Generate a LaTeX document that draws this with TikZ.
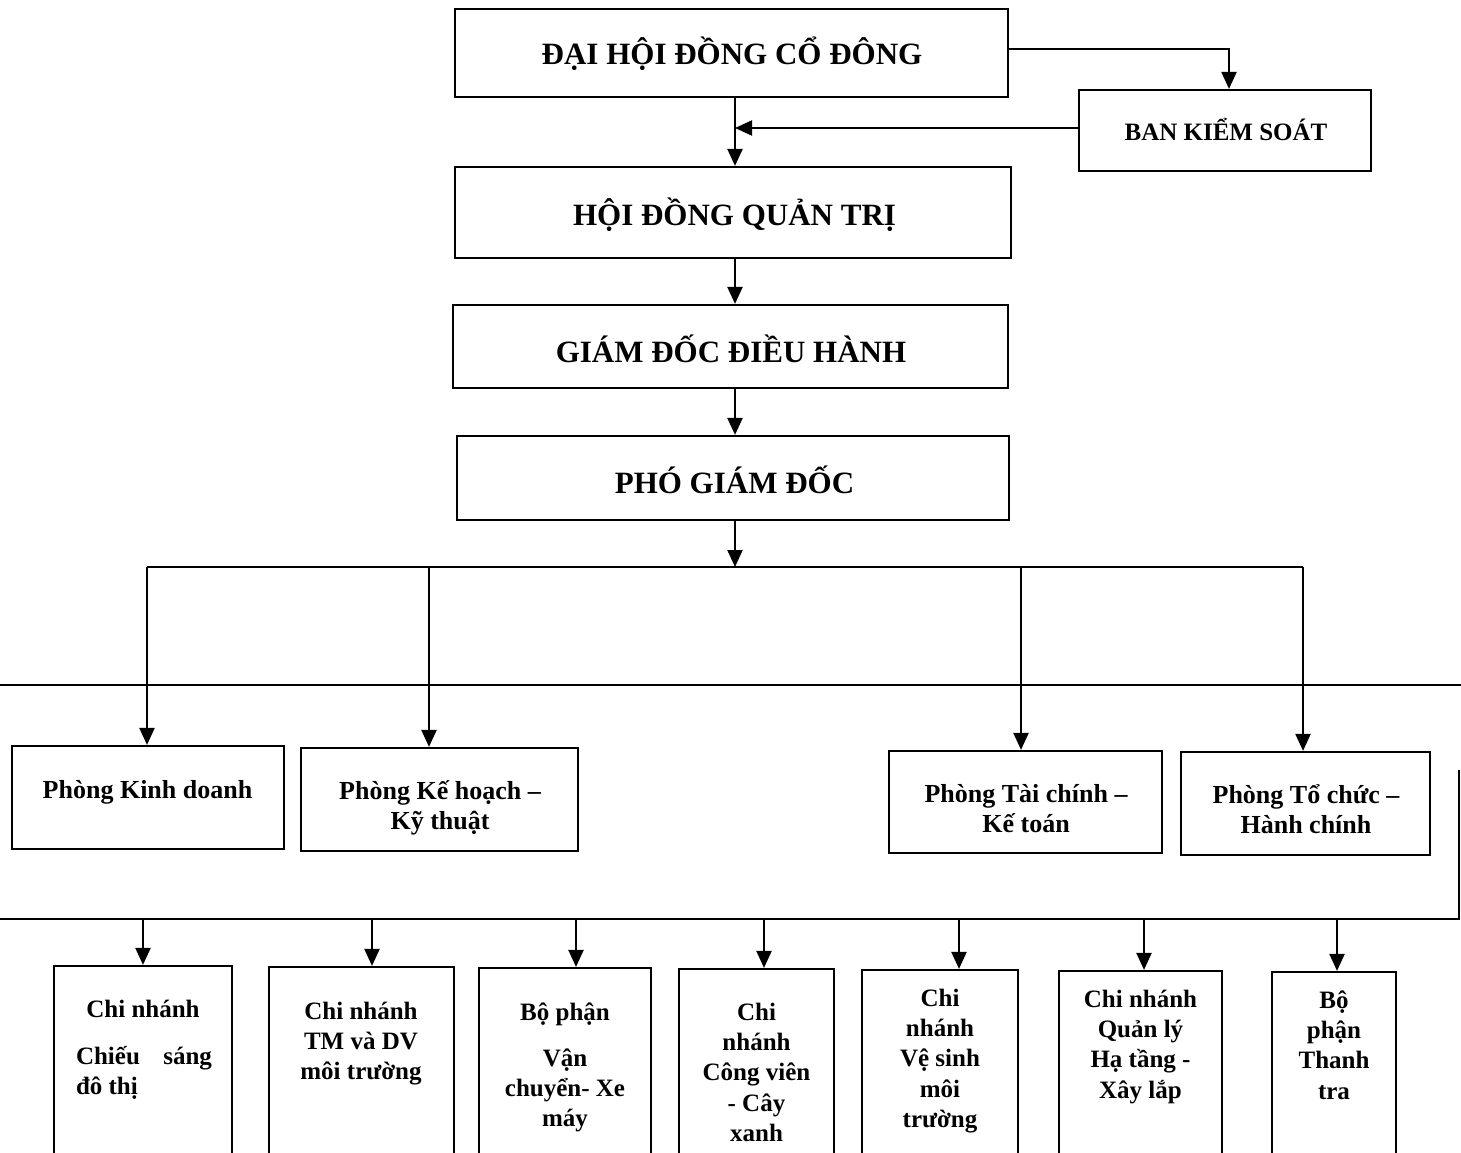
\documentclass[tikz,border=0pt]{standalone}
\usepackage{fontspec}
\setmainfont{Liberation Serif}
\usetikzlibrary{arrows.meta}
\begin{document}
\begin{tikzpicture}[x=1pt,y=-1pt,
  box/.style={draw, line width=2.2pt, rectangle, inner sep=0pt},
  arr/.style={line width=2.2pt, -{Triangle[length=17pt,width=15pt]}},
  ln/.style={line width=2.2pt},
  big/.style={font=\bfseries\fontsize{31}{37}\selectfont, anchor=base, inner sep=0pt},
  mid/.style={font=\bfseries\fontsize{25}{30}\selectfont, anchor=base, inner sep=0pt},
  twol/.style={anchor=north, inner sep=0pt, align=center, font=\bfseries\fontsize{26}{30}\selectfont},
  one/.style={anchor=base, inner sep=0pt, font=\bfseries\fontsize{26}{30}\selectfont},
  bl/.style={anchor=north, inner sep=0pt, align=center, font=\bfseries\fontsize{25}{30.3}\selectfont},
  bone/.style={anchor=base, inner sep=0pt, font=\bfseries\fontsize{25}{30}\selectfont}
]
\useasboundingbox (0,0) rectangle (1461,1152);

% main boxes
\node[box, minimum width=553pt, minimum height=88pt] (dh) at (731.5,53) {};
\node[box, minimum width=292pt, minimum height=81pt] (bks) at (1225,130.5) {};
\node[box, minimum width=556pt, minimum height=91pt] (hd) at (733,212.5) {};
\node[box, minimum width=555pt, minimum height=83pt] (gd) at (730.5,346.5) {};
\node[box, minimum width=552pt, minimum height=84pt] (pgd) at (733,478) {};

\node[big] (tdh) at (732,64) {ĐẠI HỘI ĐỒNG CỔ ĐÔNG};
\node[mid] (tbks) at (1226,140) {BAN KIỂM SOÁT};
\node[big] (thd) at (734.5,225) {HỘI ĐỒNG QUẢN TRỊ};
\node[big] (tgd) at (731,362) {GIÁM ĐỐC ĐIỀU HÀNH};
\node[big] (tpgd) at (734.5,493) {PHÓ GIÁM ĐỐC};

% departments
\node[box, minimum width=272pt, minimum height=103pt] (p1) at (148,797.5) {};
\node[box, minimum width=277pt, minimum height=103pt] (p2) at (439.5,799.5) {};
\node[box, minimum width=273pt, minimum height=102pt] (p3) at (1025.5,802) {};
\node[box, minimum width=249pt, minimum height=103pt] (p4) at (1305.5,803.5) {};

\node[one] (tp1) at (147.5,798) {Phòng Kinh doanh};
\node[twol] (tp2) at (440,774) {\rule{0pt}{25pt}Phòng Kế hoạch –\\Kỹ thuật};
\node[twol] (tp3) at (1026,777) {\rule{0pt}{25pt}Phòng Tài chính –\\Kế toán};
\node[twol] (tp4) at (1306,778) {\rule{0pt}{25pt}Phòng Tổ chức –\\Hành chính};

% branches
\node[box, minimum width=178pt, minimum height=194pt] (b1) at (143,1063) {};
\node[box, minimum width=185pt, minimum height=193pt] (b2) at (361.5,1063.5) {};
\node[box, minimum width=172pt, minimum height=192pt] (b3) at (565,1064) {};
\node[box, minimum width=155pt, minimum height=191pt] (b4) at (756.5,1064.5) {};
\node[box, minimum width=156pt, minimum height=190pt] (b5) at (940,1065) {};
\node[box, minimum width=163pt, minimum height=189pt] (b6) at (1140.5,1065.5) {};
\node[box, minimum width=124pt, minimum height=188pt] (b7) at (1334,1066) {};

\node[bone] (tb1a) at (143,1017) {Chi nhánh};
\node[bl] (tb1b) at (144,1040) {\rule{0pt}{24pt}\makebox[136pt][s]{Chiếu\hfill sáng}\\\makebox[136pt][l]{đô thị}};
\node[bl] (tb2) at (361,995) {\rule{0pt}{24pt}Chi nhánh\\TM và DV\\môi trường};
\node[bone] (tb3a) at (565,1020) {Bộ phận};
\node[bl] (tb3b) at (565,1042) {\rule{0pt}{24pt}Vận\\chuyển- Xe\\máy};
\node[bl] (tb4) at (756.5,996) {\rule{0pt}{24pt}Chi\\nhánh\\Công viên\\- Cây\\xanh};
\node[bl] (tb5) at (940,982) {\rule{0pt}{24pt}Chi\\nhánh\\Vệ sinh\\môi\\trường};
\node[bl] (tb6) at (1140.5,983) {\rule{0pt}{24pt}Chi nhánh\\Quản lý\\Hạ tầng -\\Xây lắp};
\node[bl] (tb7) at (1334,984) {\rule{0pt}{24pt}Bộ\\phận\\Thanh\\tra};

% connectors
\coordinate (spine) at (735,0);
\coordinate (k1) at (1229,49);
\draw[arr] (dh.east |- k1) -- (k1) -- (k1 |- bks.north);
\draw[arr] (bks.west |- 0,128) -- (spine |- 0,128);
\draw[arr] (dh.south -| spine) -- (hd.north -| spine);
\draw[arr] (hd.south -| spine) -- (gd.north -| spine);
\draw[arr] (gd.south -| spine) -- (pgd.north -| spine);

\coordinate (busL) at (147,567);
\coordinate (busB) at (429,567);
\coordinate (busC) at (1021,567);
\coordinate (busR) at (1303,567);
\draw[arr] (pgd.south -| spine) -- (spine |- busL);
\draw[ln] (busL) -- (busR);
\draw[arr] (busL) -- (busL |- p1.north);
\draw[arr] (busB) -- (busB |- p2.north);
\draw[arr] (busC) -- (busC |- p3.north);
\draw[arr] (busR) -- (busR |- p4.north);

\coordinate (m1) at (0,685);
\coordinate (m2) at (1461,685);
\draw[ln] (m1) -- (m2);
\coordinate (r1) at (1459,770);
\coordinate (r2) at (1459,919);
\coordinate (l2) at (0,919);
\draw[ln] (r1) -- (r2) -- (l2);

\foreach \x/\b in {143/b1,372/b2,576/b3,764/b4,959/b5,1144/b6,1337/b7}{
  \draw[arr] (\x,919) -- (\x,0 |- \b.north);
}
\end{tikzpicture}
\end{document}
